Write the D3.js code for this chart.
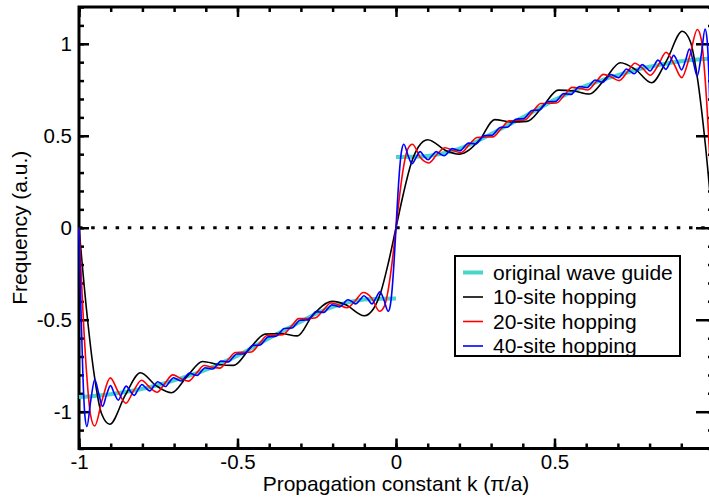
<!DOCTYPE html>
<html lang="en">
<head>
<meta charset="UTF-8">
<title>Hopping approximation of a wave guide band</title>
<script src="https://d3js.org/d3.v7.min.js"></script>
<style>
  body { margin: 0; background: #fff; }
  svg { display: block; font-family: "Liberation Sans", Arial, Helvetica, sans-serif; }
  .tick text { font-size: 20.5px; fill: #000; }
  .tick line { stroke: #000; stroke-width: 2.5; }
</style>
</head>
<body>
<div id="chart"></div>
<script>
// ---- data: [k, frequency] ----
const guideNeg = [[-1,-0.92],[-0.95,-0.914],[-0.9,-0.905],[-0.85,-0.892],[-0.8,-0.875],[-0.75,-0.855],[-0.7,-0.83],[-0.65,-0.803],[-0.6,-0.772],[-0.55,-0.735],[-0.5,-0.695],[-0.45,-0.648],[-0.4,-0.6],[-0.35,-0.555],[-0.3,-0.51],[-0.25,-0.465],[-0.2,-0.43],[-0.15,-0.405],[-0.1,-0.39],[-0.05,-0.386],[0,-0.385]];
const guidePos = [[0,0.385],[0.05,0.386],[0.1,0.39],[0.15,0.405],[0.2,0.43],[0.25,0.465],[0.3,0.51],[0.35,0.555],[0.4,0.6],[0.45,0.648],[0.5,0.695],[0.55,0.735],[0.6,0.772],[0.65,0.803],[0.7,0.83],[0.75,0.855],[0.8,0.875],[0.85,0.892],[0.9,0.905],[0.95,0.914],[1,0.92]];

const hop10 = [[-1,0],[-0.976,-0.45],[-0.952,-0.8],[-0.929,-1.01],[-0.903,-1.068],[-0.854,-0.91],[-0.806,-0.788],[-0.757,-0.858],[-0.708,-0.897],[-0.659,-0.808],[-0.61,-0.727],[-0.561,-0.743],[-0.512,-0.748],[-0.463,-0.66],[-0.413,-0.578],[-0.364,-0.575],[-0.311,-0.588],[-0.264,-0.478],[-0.2,-0.4],[-0.16,-0.417],[-0.1,-0.478],[-0.071,-0.44],[-0.048,-0.35],[-0.024,-0.19],
  [0,0],[0.024,0.19],[0.048,0.35],[0.071,0.44],[0.1,0.478],[0.16,0.417],[0.2,0.4],[0.264,0.478],[0.311,0.588],[0.364,0.575],[0.413,0.578],[0.463,0.66],[0.512,0.748],[0.561,0.743],[0.61,0.727],[0.659,0.808],[0.708,0.897],[0.757,0.858],[0.806,0.788],[0.854,0.91],[0.903,1.068],[0.929,1.01],[0.952,0.8],[0.976,0.45],[1,0]];

const hop20 = [[-1,0],[-0.9878,-0.448],[-0.9756,-0.8],[-0.9634,-1.02],[-0.9507,-1.078],[-0.926,-0.929],[-0.9014,-0.816],[-0.877,-0.89],[-0.852,-0.954],[-0.8275,-0.885],[-0.8028,-0.829],[-0.778,-0.866],[-0.7535,-0.894],[-0.729,-0.845],[-0.704,-0.8],[-0.679,-0.819],[-0.6546,-0.834],[-0.63,-0.791],[-0.6052,-0.749],[-0.58,-0.758],[-0.5557,-0.763],[-0.531,-0.72],[-0.506,-0.678],[-0.481,-0.677],[-0.4563,-0.675],[-0.431,-0.63],[-0.4065,-0.586],[-0.382,-0.584],[-0.3566,-0.581],[-0.3315,-0.538],[-0.3064,-0.494],[-0.281,-0.493],[-0.2561,-0.491],[-0.231,-0.452],[-0.2055,-0.409],[-0.18,-0.42],[-0.1545,-0.435],[-0.129,-0.398],[-0.1033,-0.352],[-0.0776,-0.38],[-0.052,-0.454],[-0.037,-0.427],[-0.0244,-0.336],[-0.0122,-0.187],
  [0,0],[0.0122,0.187],[0.0244,0.336],[0.037,0.427],[0.052,0.454],[0.0776,0.38],[0.1033,0.352],[0.129,0.398],[0.1545,0.435],[0.18,0.42],[0.2055,0.409],[0.231,0.452],[0.2561,0.491],[0.281,0.493],[0.3064,0.494],[0.3315,0.538],[0.3566,0.581],[0.382,0.584],[0.4065,0.586],[0.431,0.63],[0.4563,0.675],[0.481,0.677],[0.506,0.678],[0.531,0.72],[0.5557,0.763],[0.58,0.758],[0.6052,0.749],[0.63,0.791],[0.6546,0.834],[0.679,0.819],[0.704,0.8],[0.729,0.845],[0.7535,0.894],[0.778,0.866],[0.8028,0.829],[0.8275,0.885],[0.852,0.954],[0.877,0.89],[0.9014,0.816],[0.926,0.929],[0.9507,1.078],[0.9634,1.02],[0.9756,0.8],[0.9878,0.448],[1,0]];

const hop40 = [[-1,0],[-0.9938,-0.448],[-0.9877,-0.8],[-0.9815,-1.02],[-0.9751,-1.08],[-0.9626,-0.935],[-0.9503,-0.825],[-0.9378,-0.902],[-0.9255,-0.971],[-0.9131,-0.908],[-0.9007,-0.858],[-0.8883,-0.902],[-0.8759,-0.937],[-0.8635,-0.896],[-0.851,-0.861],[-0.8386,-0.888],[-0.8262,-0.911],[-0.8138,-0.88],[-0.8014,-0.852],[-0.789,-0.871],[-0.7766,-0.887],[-0.7641,-0.861],[-0.7517,-0.837],[-0.7393,-0.85],[-0.7269,-0.863],[-0.7145,-0.838],[-0.7021,-0.815],[-0.6896,-0.825],[-0.6772,-0.833],[-0.6647,-0.811],[-0.6523,-0.79],[-0.6399,-0.797],[-0.6275,-0.803],[-0.615,-0.782],[-0.6026,-0.761],[-0.5901,-0.765],[-0.5777,-0.768],[-0.5653,-0.747],[-0.5529,-0.725],[-0.5404,-0.727],[-0.528,-0.729],[-0.5155,-0.707],[-0.5031,-0.686],[-0.4906,-0.686],[-0.4781,-0.685],[-0.4657,-0.663],[-0.4532,-0.64],[-0.4407,-0.639],[-0.4283,-0.637],[-0.4158,-0.615],[-0.4033,-0.593],[-0.3908,-0.592],[-0.3783,-0.59],[-0.3658,-0.569],[-0.3533,-0.548],[-0.3408,-0.546],[-0.3283,-0.545],[-0.3157,-0.524],[-0.3032,-0.503],[-0.2906,-0.502],[-0.2781,-0.501],[-0.2655,-0.479],[-0.253,-0.456],[-0.2404,-0.458],[-0.2278,-0.46],[-0.2153,-0.44],[-0.2027,-0.419],[-0.19,-0.424],[-0.1774,-0.431],[-0.1648,-0.411],[-0.1521,-0.391],[-0.1394,-0.401],[-0.1267,-0.414],[-0.114,-0.393],[-0.1013,-0.37],[-0.0886,-0.388],[-0.0759,-0.414],[-0.0632,-0.381],[-0.0506,-0.348],[-0.038,-0.393],[-0.0247,-0.454],[-0.0185,-0.427],[-0.0123,-0.336],[-0.0062,-0.187],
  [0,0],[0.0062,0.187],[0.0123,0.336],[0.0185,0.427],[0.0247,0.454],[0.038,0.393],[0.0506,0.348],[0.0632,0.381],[0.0759,0.414],[0.0886,0.388],[0.1013,0.37],[0.114,0.393],[0.1267,0.414],[0.1394,0.401],[0.1521,0.391],[0.1648,0.411],[0.1774,0.431],[0.19,0.424],[0.2027,0.419],[0.2153,0.44],[0.2278,0.46],[0.2404,0.458],[0.253,0.456],[0.2655,0.479],[0.2781,0.501],[0.2906,0.502],[0.3032,0.503],[0.3157,0.524],[0.3283,0.545],[0.3408,0.546],[0.3533,0.548],[0.3658,0.569],[0.3783,0.59],[0.3908,0.592],[0.4033,0.593],[0.4158,0.615],[0.4283,0.637],[0.4407,0.639],[0.4532,0.64],[0.4657,0.663],[0.4781,0.685],[0.4906,0.686],[0.5031,0.686],[0.5155,0.707],[0.528,0.729],[0.5404,0.727],[0.5529,0.725],[0.5653,0.747],[0.5777,0.768],[0.5901,0.765],[0.6026,0.761],[0.615,0.782],[0.6275,0.803],[0.6399,0.797],[0.6523,0.79],[0.6647,0.811],[0.6772,0.833],[0.6896,0.825],[0.7021,0.815],[0.7145,0.838],[0.7269,0.863],[0.7393,0.85],[0.7517,0.837],[0.7641,0.861],[0.7766,0.887],[0.789,0.871],[0.8014,0.852],[0.8138,0.88],[0.8262,0.911],[0.8386,0.888],[0.851,0.861],[0.8635,0.896],[0.8759,0.937],[0.8883,0.902],[0.9007,0.858],[0.9131,0.908],[0.9255,0.971],[0.9378,0.902],[0.9503,0.825],[0.9626,0.935],[0.9751,1.08],[0.9815,1.02],[0.9877,0.8],[0.9938,0.448],[1,0]];

const xMajor = [-1, -0.5, 0, 0.5, 1];
const xLabels = ["-1", "-0.5", "0", "0.5", ""];
const yMajor = [-1, -0.5, 0, 0.5, 1];
const yLabels = ["-1", "-0.5", "0", "0.5", "1"];
const legendLabels = ["original wave guide", "10-site hopping", "20-site hopping", "40-site hopping"];
const legendColors = ["#48d6cc", "#000000", "#ff0000", "#0000ff"];

// ---- layout ----
const W = 709, H = 498;
const svg = d3.select("#chart").append("svg")
  .attr("width", W)
  .attr("height", H);

const x = d3.scaleLinear().domain([-1, 1]).range([79, 713]);
const y = d3.scaleLinear().domain([-1.2, 1.2]).range([448.5, 7]);

// minor ticks
svg.append("g").attr("transform", `translate(0,${y(-1.2)})`)
  .call(d3.axisBottom(x).tickValues(x.ticks(20)).tickSize(-5).tickFormat(""))
  .call(g => g.select(".domain").remove());
svg.append("g").attr("transform", `translate(0,${y(1.2)})`)
  .call(d3.axisTop(x).tickValues(x.ticks(20)).tickSize(-5).tickFormat(""))
  .call(g => g.select(".domain").remove());
svg.append("g").attr("transform", `translate(${x(-1)},0)`)
  .call(d3.axisLeft(y).tickValues(y.ticks(24)).tickSize(-5).tickFormat(""))
  .call(g => g.select(".domain").remove());
svg.append("g").attr("transform", `translate(${x(1)},0)`)
  .call(d3.axisRight(y).tickValues(y.ticks(24)).tickSize(-5).tickFormat(""))
  .call(g => g.select(".domain").remove());

// major ticks + labels
svg.append("g").attr("transform", `translate(0,${y(-1.2)})`)
  .call(d3.axisBottom(x).tickValues(xMajor).tickSizeInner(-10).tickSizeOuter(0).tickPadding(6)
    .tickFormat((d, i) => xLabels[i]))
  .call(g => g.select(".domain").remove());
svg.append("g").attr("transform", `translate(0,${y(1.2)})`)
  .call(d3.axisTop(x).tickValues(xMajor).tickSizeInner(-10).tickSizeOuter(0).tickFormat(""))
  .call(g => g.select(".domain").remove());
svg.append("g").attr("transform", `translate(${x(-1)},0)`)
  .call(d3.axisLeft(y).tickValues(yMajor).tickSizeInner(-10).tickSizeOuter(0).tickPadding(7)
    .tickFormat((d, i) => yLabels[i]))
  .call(g => g.select(".domain").remove());
svg.append("g").attr("transform", `translate(${x(1)},0)`)
  .call(d3.axisRight(y).tickValues(yMajor).tickSizeInner(-17).tickSizeOuter(0).tickFormat(""))
  .call(g => g.select(".domain").remove());

svg.selectAll(".tick text").attr("font-family", null).attr("font-size", null);

// frame
svg.append("rect")
  .attr("x", x(-1)).attr("y", y(1.2))
  .attr("width", x(1) - x(-1)).attr("height", y(-1.2) - y(1.2))
  .attr("fill", "none").attr("stroke", "#000").attr("stroke-width", 3);

// dotted zero line
svg.append("line")
  .attr("x1", x(-1)).attr("x2", x(1))
  .attr("y1", y(0)).attr("y2", y(0))
  .attr("stroke", "#000").attr("stroke-width", 3.2)
  .attr("stroke-dasharray", "3.5 8.7");

// curves
const line = d3.line().x(d => x(d[0])).y(d => y(d[1])).curve(d3.curveMonotoneX);

[guideNeg, guidePos].forEach(seg => {
  svg.append("path").datum(seg)
    .attr("d", line)
    .attr("fill", "none")
    .attr("stroke", legendColors[0])
    .attr("stroke-width", 4);
});

[hop10, hop20, hop40].forEach((s, i) => {
  svg.append("path").datum(s)
    .attr("d", line)
    .attr("fill", "none")
    .attr("stroke", legendColors[i + 1])
    .attr("stroke-width", 1.6)
    .attr("stroke-linejoin", "round");
});

// legend
const legend = svg.append("g").attr("transform", "translate(455,256)");
legend.append("rect")
  .attr("width", 225).attr("height", 100)
  .attr("fill", "#fff").attr("stroke", "#000").attr("stroke-width", 2);
legendLabels.forEach((lab, i) => {
  const yy = 16.5 + i * 24.5;
  legend.append("line")
    .attr("x1", 8).attr("x2", 28).attr("y1", yy).attr("y2", yy)
    .attr("stroke", legendColors[i])
    .attr("stroke-width", i === 0 ? 4 : 1.6);
  legend.append("text")
    .attr("x", 38).attr("y", yy)
    .attr("dy", "0.35em")
    .attr("font-size", 21)
    .text(lab);
});

// axis titles
svg.append("text")
  .attr("x", (x(-1) + x(1)) / 2).attr("y", 491)
  .attr("text-anchor", "middle")
  .attr("font-size", 21)
  .text("Propagation constant k (π/a)");

svg.append("text")
  .attr("transform", `translate(27,${y(0)}) rotate(-90)`)
  .attr("text-anchor", "middle")
  .attr("font-size", 21)
  .text("Frequency (a.u.)");
</script>
</body>
</html>
